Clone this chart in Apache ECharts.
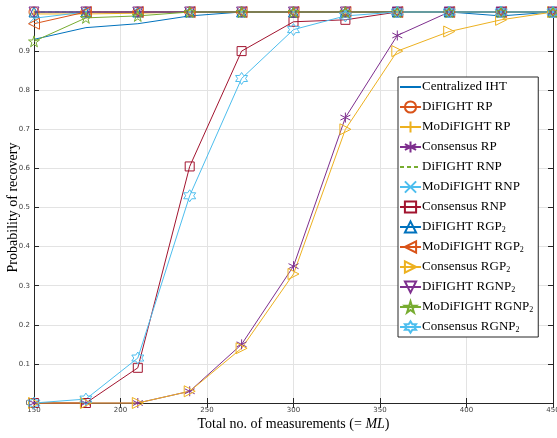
<!DOCTYPE html>
<html>
<head>
<meta charset="utf-8">
<script src="https://cdn.jsdelivr.net/npm/echarts@6/dist/echarts.min.js"></script>
<style>html,body{margin:0;padding:0;background:#fff}#c{width:557px;height:438px}</style>
</head>
<body>
<div id="c"></div>
<script>
const xValues = [150, 180, 210, 240, 270, 300, 330, 360, 390, 420, 450];
const yTickLabels = ['0', '0.1', '0.2', '0.3', '0.4', '0.5', '0.6', '0.7', '0.8', '0.9', ''];

const centralizedIHT = [0.93, 0.96, 0.97, 0.99, 1, 1, 1, 1, 1, 0.99, 1];
const difightRP = [1, 1, 1, 1, 1, 1, 1, 1, 1, 1, 1];
const modifightRP = [0.995, 0.995, 0.997, 1, 1, 1, 1, 1, 1, 1, 1];
const consensusRP = [0, 0, 0, 0.03, 0.15, 0.35, 0.73, 0.94, 1, 1, 1];
const difightRNP = [1, 1, 1, 1, 1, 1, 1, 1, 1, 1, 1];
const modifightRNP = [0.984, 1, 1, 1, 1, 1, 1, 1, 1, 1, 1];
const consensusRNP = [0, 0, 0.09, 0.605, 0.90, 0.975, 0.98, 1, 1, 1, 1];
const difightRGP2 = [1, 1, 1, 1, 1, 1, 1, 1, 1, 1, 1];
const modifightRGP2 = [0.97, 1, 1, 1, 1, 1, 1, 1, 1, 1, 1];
const consensusRGP2 = [0, 0, 0, 0.03, 0.14, 0.33, 0.70, 0.90, 0.95, 0.98, 1];
const difightRGNP2 = [1, 1, 1, 1, 1, 1, 1, 1, 1, 1, 1];
const modifightRGNP2 = [0.925, 0.985, 0.99, 1, 1, 1, 1, 1, 1, 1, 1];
const consensusRGNP2 = [0, 0.01, 0.115, 0.53, 0.83, 0.955, 0.99, 1, 1, 1, 1];

const seriesNames = ['Centralized IHT', 'DiFIGHT RP', 'MoDiFIGHT RP', 'Consensus RP',
  'DiFIGHT RNP', 'MoDiFIGHT RNP', 'Consensus RNP', 'DiFIGHT RGP2', 'MoDiFIGHT RGP2',
  'Consensus RGP2', 'DiFIGHT RGNP2', 'MoDiFIGHT RGNP2', 'Consensus RGNP2'];
const seriesValues = [centralizedIHT, difightRP, modifightRP, consensusRP, difightRNP,
  modifightRNP, consensusRNP, difightRGP2, modifightRGP2, consensusRGP2, difightRGNP2,
  modifightRGNP2, consensusRGNP2];

const colors = ['#0072BD', '#D95319', '#EDB120', '#7E2F8E', '#77AC30', '#4DBEEE', '#A2142F',
  '#0072BD', '#D95319', '#EDB120', '#7E2F8E', '#77AC30', '#4DBEEE'];
const sym = {
  none: 'circle',
  circle: 'circle',
  plus: 'path://M5,0L5,10M0,5L10,5',
  star: 'path://M5,0L5,10M0.67,2.5L9.33,7.5M0.67,7.5L9.33,2.5',
  x: 'path://M0,0L10,10M0,10L10,0',
  square: 'rect',
  up: 'path://M5,0L10,10L0,10Z',
  left: 'path://M0,5L10,0L10,10Z',
  right: 'path://M10,5L0,0L0,10Z',
  down: 'path://M0,0L10,0L5,10Z',
  penta: 'path://M5,0L6.123,3.455L9.755,3.455L6.816,5.59L7.939,9.045L5,6.91L2.061,9.045L3.184,5.59L0.245,3.455L3.877,3.455Z',
  hexa: 'path://M5,0L6.443,2.5L9.33,2.5L7.887,5L9.33,7.5L6.443,7.5L5,10L3.557,7.5L0.67,7.5L2.113,5L0.67,2.5L3.557,2.5Z'
};
const symbols = ['none', 'circle', 'plus', 'star', 'none', 'x', 'square', 'up', 'left', 'right', 'down', 'penta', 'hexa'];
const sizes = [0, 10, 10, 10, 0, 9, 9, 10, 11, 11, 10, 11, 12];

const series = seriesNames.map((name, i) => {
  const noMark = symbols[i] === 'none';
  return {
    name: name,
    type: 'line',
    data: xValues.map((x, j) => [x, seriesValues[i][j]]),
    symbol: sym[symbols[i]],
    symbolSize: sizes[i],
    showSymbol: !noMark,
    clip: false,
    lineStyle: { color: colors[i], width: 1, type: i === 4 ? [4, 3] : 'solid' },
    itemStyle: noMark
      ? { color: 'rgba(0,0,0,0)', borderColor: 'rgba(0,0,0,0)', borderWidth: 0 }
      : { color: 'rgba(0,0,0,0)', borderColor: colors[i], borderWidth: 1 },
    emphasis: { disabled: true },
    animation: false
  };
});

const chart = echarts.init(document.getElementById('c'), null, { renderer: 'canvas' });
const axisCol = '#262626';
chart.setOption({
  backgroundColor: '#fff',
  animation: false,
  grid: { left: 34, right: 4, top: 12, bottom: 35, containLabel: false, outerBoundsMode: 'none' },
  xAxis: [{
    type: 'value', min: 150, max: 450, interval: 50, position: 'bottom',
    name: '{n|Total no. of measurements (= }{i|ML}{n|)}',
    nameLocation: 'middle', nameGap: 14, nameMoveOverlap: false,
    nameTextStyle: { verticalAlign: 'top', rich: {
      n: { fontFamily: 'Liberation Serif', fontSize: 14, color: '#000' },
      i: { fontFamily: 'Liberation Serif', fontStyle: 'italic', fontSize: 14, color: '#000' } } },
    axisLine: { show: true, lineStyle: { color: axisCol, width: 1 } },
    axisTick: { show: true, inside: true, length: 5, lineStyle: { color: axisCol } },
    axisLabel: { fontSize: 7, color: '#404040', margin: 4, fontFamily: 'DejaVu Sans', hideOverlap: false },
    splitLine: { show: true, lineStyle: { color: '#e3e3e3', width: 1 } }
  }, {
    type: 'value', min: 150, max: 450, interval: 50, position: 'top',
    axisLine: { show: true, lineStyle: { color: axisCol, width: 1 } },
    axisTick: { show: true, inside: true, length: 5, lineStyle: { color: axisCol } },
    axisLabel: { show: false }, splitLine: { show: false }
  }],
  yAxis: [{
    type: 'value', min: 0, max: 1, interval: 0.1, position: 'left',
    name: 'Probability of recovery', nameLocation: 'middle', nameGap: 14, nameMoveOverlap: false,
    nameTextStyle: { fontFamily: 'Liberation Serif', fontSize: 14, color: '#000' },
    axisLine: { show: true, lineStyle: { color: axisCol, width: 1 } },
    axisTick: { show: true, inside: true, length: 5, lineStyle: { color: axisCol } },
    axisLabel: { fontSize: 7, color: '#404040', margin: 4, fontFamily: 'DejaVu Sans',
      formatter: v => yTickLabels[Math.round(v * 10)] },
    splitLine: { show: true, lineStyle: { color: '#e3e3e3', width: 1 } }
  }, {
    type: 'value', min: 0, max: 1, interval: 0.1, position: 'right',
    axisLine: { show: true, lineStyle: { color: axisCol, width: 1 } },
    axisTick: { show: true, inside: true, length: 5, lineStyle: { color: axisCol } },
    axisLabel: { show: false }, splitLine: { show: false }
  }],
  legend: {
    orient: 'vertical', left: 398, top: 77,
    padding: [3, 5, 3, 1],
    itemWidth: 21, itemHeight: 14, itemGap: 6,
    backgroundColor: '#fff', borderColor: axisCol, borderWidth: 1,
    borderRadius: 0,
    data: seriesNames,
    formatter: name => name.replace(/2$/, '{s|2}'),
    textStyle: {
      fontFamily: 'Liberation Serif', fontSize: 13, color: '#000', lineHeight: 14, padding: [0, 0, 0, -4],
      rich: { s: { fontFamily: 'Liberation Serif', fontSize: 8, color: '#000', verticalAlign: 'bottom', lineHeight: 14, padding: [5, 0, 0, 0] } }
    }
  },
  series: series
});
</script>
</body>
</html>
